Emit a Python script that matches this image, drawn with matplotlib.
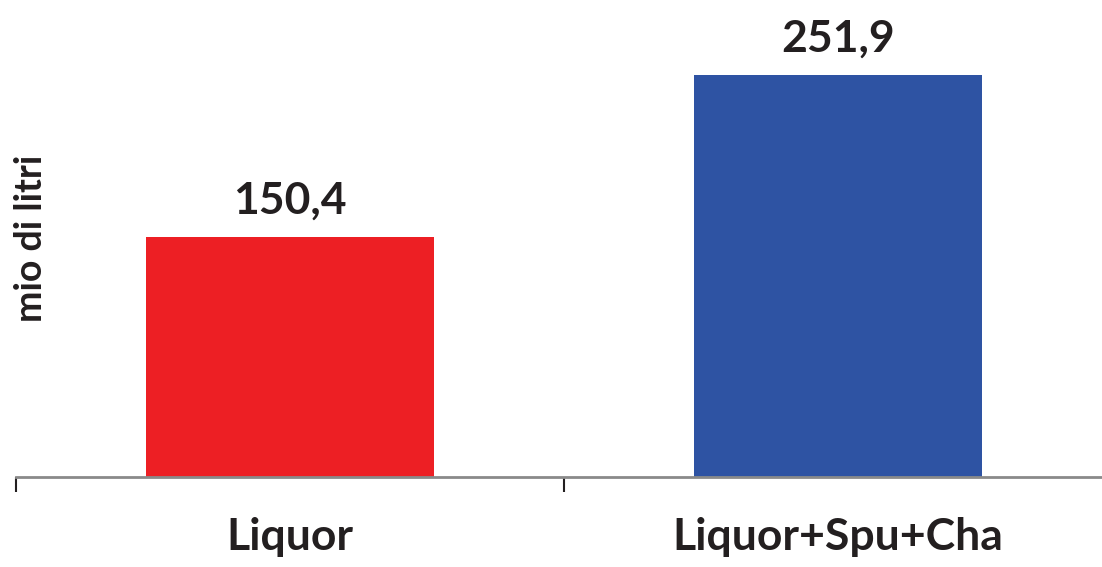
import numpy as np
import matplotlib.pyplot as plt

# dati
categorie = ['Liquor', 'Liquor+Spu+Cha']
valori = [150.4, 251.9]
etichette = ['150,4', '251,9']
colori = ['#ED1F24', '#2E53A3']

testo = '#231F20'
plt.rcParams['font.family'] = ['Lato', 'DejaVu Sans']

fig = plt.figure(figsize=(11.02, 5.67), dpi=100)
ax = fig.add_axes([16 / 1102, 90 / 567, 1086 / 1102, 477 / 567])

x = np.arange(len(categorie))
ax.bar(x, valori, width=0.527, color=colori, zorder=2)

for xi, v, lab in zip(x, valori, etichette):
    ax.annotate(lab, (xi, v), xytext=(0, 17), textcoords='offset points',
                ha='center', va='baseline', fontsize=32, fontweight='bold', color=testo)

ax.set_xlim(-0.5, 1.4818)
ax.set_ylim(0, 299)

for s in ['top', 'right', 'left']:
    ax.spines[s].set_visible(False)
ax.spines['bottom'].set_color('#8A8A8A')
ax.spines['bottom'].set_linewidth(2)

ax.set_yticks([])
ax.set_xticks(x)
ax.set_xticklabels(categorie, fontsize=32, fontweight='bold', color=testo)
ax.tick_params(axis='x', which='major', length=0, pad=29)
ax.set_xticks([-0.5, 0.5], minor=True)
ax.tick_params(axis='x', which='minor', length=11, width=1.5, color=testo)

fig.text(31 / 1102, 1 - 238 / 567, 'mio di litri', rotation=90, ha='center', va='center',
         fontsize=27, fontweight='bold', color=testo)

plt.savefig('out.png', dpi=100)
